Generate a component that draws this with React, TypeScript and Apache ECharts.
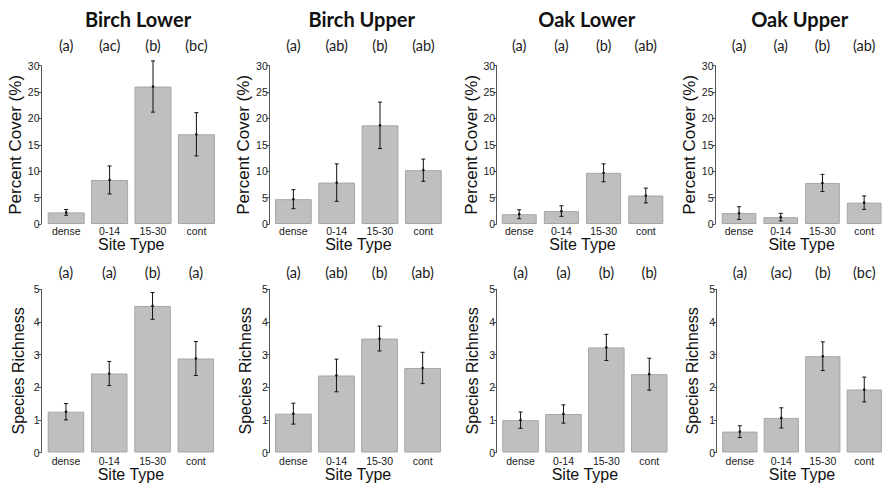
import React, { useEffect, useRef } from 'react';
import * as echarts from 'echarts';

const siteTypes = ['dense', '0-14', '15-30', 'cont'];
const panelTitles = ['Birch Lower', 'Birch Upper', 'Oak Lower', 'Oak Upper'];

const coverMeans = [
  [2.2, 8.35, 26.05, 17.0],
  [4.7, 7.85, 18.7, 10.2],
  [1.85, 2.45, 9.7, 5.4],
  [2.07, 1.3, 7.78, 4.05],
];
const coverSE = [
  [0.55, 2.65, 4.85, 4.1],
  [1.8, 3.55, 4.4, 2.1],
  [0.85, 1.0, 1.7, 1.4],
  [1.2, 0.72, 1.63, 1.28],
];
const richMeans = [
  [1.25, 2.42, 4.49, 2.88],
  [1.19, 2.36, 3.49, 2.59],
  [0.99, 1.18, 3.22, 2.4],
  [0.64, 1.06, 2.95, 1.93],
];
const richSE = [
  [0.25, 0.37, 0.41, 0.52],
  [0.32, 0.5, 0.38, 0.48],
  [0.25, 0.28, 0.4, 0.49],
  [0.18, 0.31, 0.44, 0.38],
];
const coverLetters = [
  ['(a)', '(ac)', '(b)', '(bc)'],
  ['(a)', '(ab)', '(b)', '(ab)'],
  ['(a)', '(a)', '(b)', '(ab)'],
  ['(a)', '(a)', '(b)', '(ab)'],
];
const richLetters = [
  ['(a)', '(a)', '(b)', '(a)'],
  ['(a)', '(ab)', '(b)', '(ab)'],
  ['(a)', '(a)', '(b)', '(b)'],
  ['(a)', '(ac)', '(b)', '(bc)'],
];
const coverAxis = { max: 30, interval: 5, name: 'Percent Cover (%)' };
const richAxis = { max: 5, interval: 1, name: 'Species Richness' };

// layout (pixels)
const topRow = { top: 65.7, height: 158.3, letterMargin: 13, labelMargin: 1, nameGap: 6, yNameSize: 17 };
const botRow = { top: 289.3, height: 163.2, letterMargin: 9, labelMargin: 2.5, nameGap: 10, yNameSize: 16 };
const topCols = [
  { left: 44.5, width: 173.6, offset: 3.5, gap: '14.7%', nameGap: 15 },
  { left: 271.7, width: 173.3, offset: 2.4, gap: '15.2%', nameGap: 15.5 },
  { left: 498.1, width: 168.8, offset: 1.4, gap: '17%', nameGap: 16 },
  { left: 718.2, width: 168, offset: 3.2, gap: '16.7%', nameGap: 16 },
];
const botCols = [
  { left: 44.3, width: 173.2, offset: 3.3, gap: '15.7%', nameGap: 15 },
  { left: 271.8, width: 172.4, offset: 2.5, gap: '14.8%', nameGap: 15.5 },
  { left: 499.1, width: 171.6, offset: 2.4, gap: '14.9%', nameGap: 16 },
  { left: 719.1, width: 171.6, offset: 2.4, gap: '14.9%', nameGap: 16 },
];
const titleX = [138, 361.7, 586.7, 799.7];

const AX_FONT = 'Liberation Sans';
const CAL_FONT = 'Lato';

function errorRender(params: any, api: any) {
  const x = api.value(0);
  const m = api.value(1);
  const se = api.value(2);
  const top = api.coord([x, m + se]);
  const bot = api.coord([x, m - se]);
  const mid = api.coord([x, m]);
  const cx = mid[0];
  const hw = 2;
  const st = { stroke: '#111', lineWidth: 1 };
  return {
    type: 'group',
    children: [
      { type: 'line', shape: { x1: cx, y1: top[1], x2: cx, y2: bot[1] }, style: st },
      { type: 'line', shape: { x1: cx - hw, y1: top[1], x2: cx + hw, y2: top[1] }, style: st },
      { type: 'line', shape: { x1: cx - hw, y1: bot[1], x2: cx + hw, y2: bot[1] }, style: st },
      { type: 'circle', shape: { cx, cy: mid[1], r: 1.3 }, style: { fill: '#111' } },
    ],
  };
}

export default function App() {
  const ref = useRef<HTMLDivElement>(null);
  useEffect(() => {
    if (!ref.current) return;
    const chart = echarts.init(ref.current, undefined, { renderer: 'svg' });
    const grid: any[] = [];
    const xAxis: any[] = [];
    const yAxis: any[] = [];
    const series: any[] = [];
    const rows = [
      { row: topRow, cols: topCols, means: coverMeans, se: coverSE, letters: coverLetters, ax: coverAxis },
      { row: botRow, cols: botCols, means: richMeans, se: richSE, letters: richLetters, ax: richAxis },
    ];
    let gi = 0;
    rows.forEach((r) => {
      r.cols.forEach((c, p) => {
        grid.push({ left: c.left, top: r.row.top, width: c.width, height: r.row.height, containLabel: false });
        const xi = xAxis.length;
        xAxis.push({
          type: 'category',
          gridIndex: gi,
          data: siteTypes,
          position: 'bottom',
          axisLine: { show: false },
          axisTick: { show: false },
          axisLabel: { fontFamily: AX_FONT, fontSize: 10.5, color: '#1a1a1a', margin: r.row.labelMargin, interval: 0 },
          name: 'Site Type',
          nameLocation: 'middle',
          nameGap: r.row.nameGap,
          nameTextStyle: { fontFamily: AX_FONT, fontSize: 16, color: '#111' },
        });
        xAxis.push({
          type: 'category',
          gridIndex: gi,
          data: r.letters[p],
          position: 'top',
          axisLine: { show: false },
          axisTick: { show: false },
          axisLabel: { fontFamily: CAL_FONT, fontSize: 14.5, color: '#1a1a1a', margin: r.row.letterMargin, interval: 0 },
        });
        yAxis.push({
          type: 'value',
          gridIndex: gi,
          min: 0,
          max: r.ax.max,
          interval: r.ax.interval,
          offset: c.offset,
          splitLine: { show: false },
          axisLine: { show: true, lineStyle: { color: '#555', width: 1 } },
          axisTick: { show: true, length: 3, lineStyle: { color: '#555' } },
          axisLabel: { fontFamily: AX_FONT, fontSize: 10.5, color: '#222', margin: 1.5 },
          name: r.ax.name,
          nameLocation: 'middle',
          nameGap: c.nameGap,
          nameTextStyle: { fontFamily: AX_FONT, fontSize: r.row.yNameSize, color: '#111' },
        });
        series.push({
          type: 'bar',
          xAxisIndex: xi,
          yAxisIndex: gi,
          data: r.means[p],
          barCategoryGap: c.gap,
          itemStyle: { color: '#bfbfbf', borderColor: '#a6a6a6', borderWidth: 1 },
          silent: true,
        });
        series.push({
          type: 'custom',
          xAxisIndex: xi,
          yAxisIndex: gi,
          clip: false,
          encode: { x: 0, y: 1 },
          data: r.means[p].map((m, i) => [i, m, r.se[p][i]]),
          renderItem: errorRender,
          silent: true,
          z: 5,
        });
        gi++;
      });
    });
    const graphic = panelTitles.map((t, i) => ({
      type: 'text',
      x: titleX[i],
      y: 19,
      style: {
        text: t,
        font: `bold 20px ${CAL_FONT}`,
        fill: '#111',
        textAlign: 'center',
        textVerticalAlign: 'middle',
      },
    }));
    chart.setOption({
      animation: false,
      backgroundColor: '#fff',
      grid,
      xAxis,
      yAxis,
      series,
      graphic,
    });
    return () => chart.dispose();
  }, []);
  return (
    <div
      ref={ref}
      style={{ position: 'fixed', left: 0, top: 0, width: 885, height: 484 }}
    />
  );
}
